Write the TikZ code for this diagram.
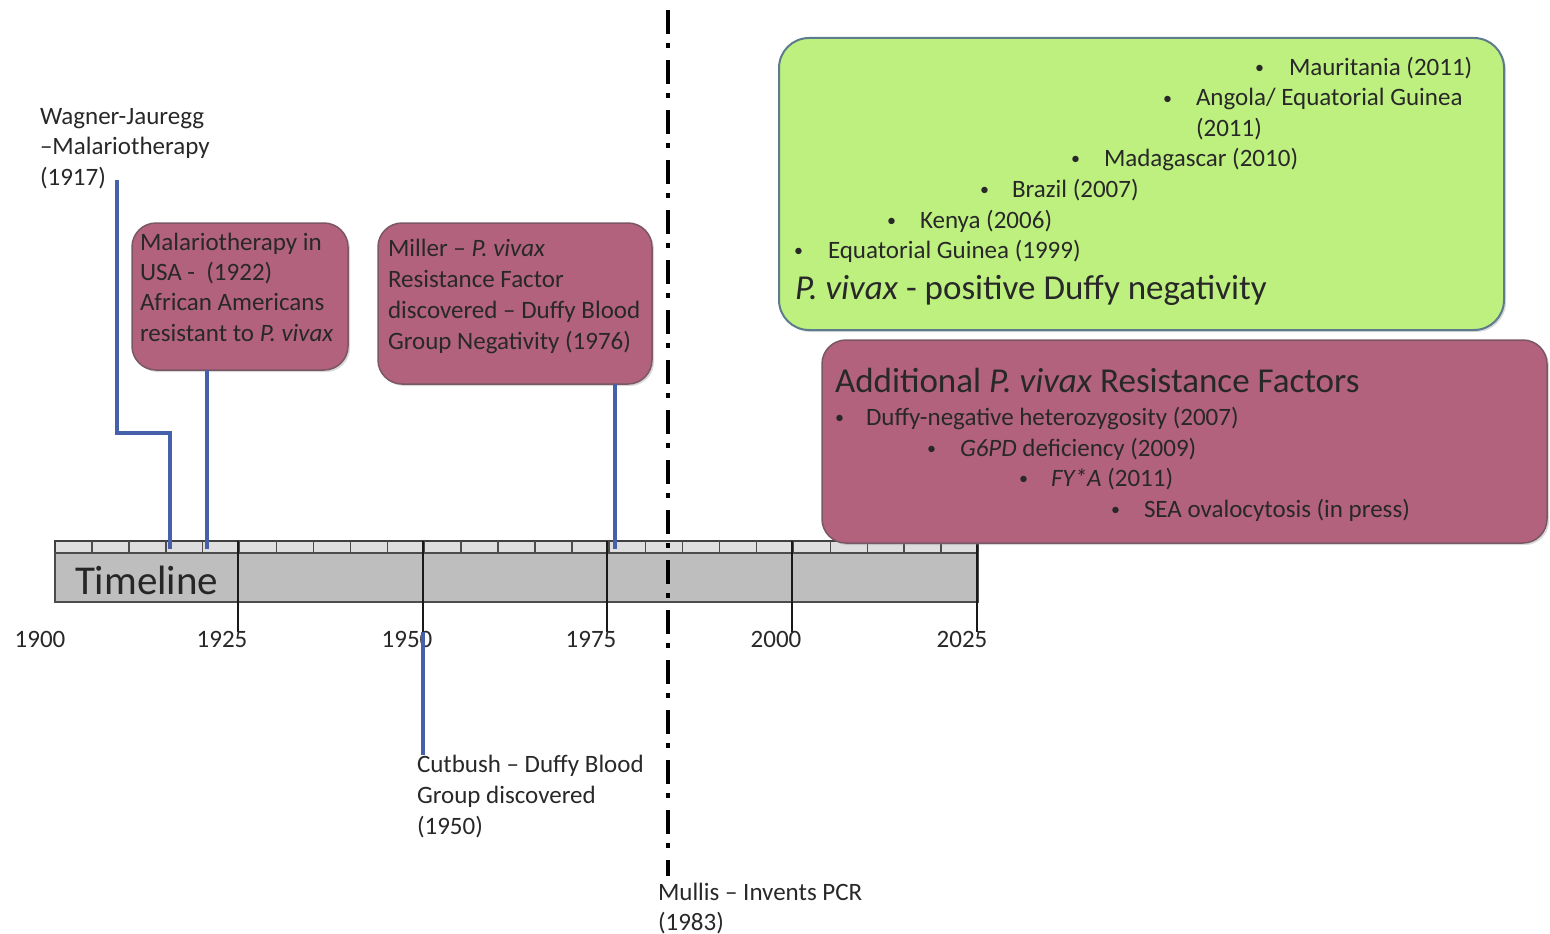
\documentclass[tikz,border=0pt]{standalone}
\usepackage{fontspec}
\setmainfont{Carlito}
\usetikzlibrary{shadows}
\definecolor{mauve}{RGB}{178,98,124}
\definecolor{mauveb}{RGB}{122,86,102}
\definecolor{lgreen}{RGB}{190,240,128}
\definecolor{greenb}{RGB}{92,124,142}
\definecolor{bluel}{RGB}{70,96,170}
\definecolor{txtc}{RGB}{40,40,40}
\definecolor{barg}{RGB}{190,190,190}
\definecolor{stripg}{RGB}{222,222,222}
\begin{document}
\begin{tikzpicture}[x=1pt,y=-1pt,
  every node/.style={inner sep=0pt,outer sep=0pt},
  txt/.style={font=\fontsize{25}{30}\selectfont,text=txtc,anchor=base west},
  bul/.style={font=\fontsize{18}{20}\selectfont,text=txtc,anchor=base west},
  bigtxt/.style={font=\fontsize{35}{40}\selectfont,text=txtc,anchor=base west},
  yrtxt/.style={font=\fontsize{25}{30}\selectfont,text=txtc,anchor=base},
  mbox/.style={rounded corners=24pt,fill=mauve,draw=mauveb,line width=1.5pt,
     drop shadow={shadow xshift=2pt,shadow yshift=-2pt,opacity=0.3}},
  gbox/.style={rounded corners=30pt,fill=lgreen,draw=greenb,line width=2pt,
     drop shadow={shadow xshift=2pt,shadow yshift=-2pt,opacity=0.3}},
  bl/.style={draw=bluel,line width=4pt},
  tick/.style={draw=black!90,line width=2.5pt},
  pcr/.style={draw=black,line width=4pt,dash pattern=on 24pt off 9pt on 5pt off 12pt}]
\useasboundingbox (0,0) rectangle (1550,934);

% ---------- timeline bar ----------
\node[anchor=north west,minimum width=923pt,minimum height=12pt,fill=stripg,draw=black!75,line width=1.5pt] (strip) at (55,541) {};
\foreach \i in {1,...,24}{\draw[black!70,line width=1.5pt] (55+\i*36.92,541) -- (55+\i*36.92,553);}
\node[anchor=north west,minimum width=923pt,minimum height=49pt,fill=barg,draw=black!70,line width=1.5pt] (bar) at (55,553) {};
\node[anchor=base west,font=\fontsize{41}{44}\selectfont,text=black!85] (tl) at (75,594) {Timeline};

\coordinate (k1925) at (238,632);
\coordinate (k1950) at (423,632);
\coordinate (k1975) at (607,632);
\coordinate (k2000) at (792,632);
\coordinate (k2025) at (977,632);
\foreach \k in {k1925,k1950,k1975,k2000,k2025}{\draw[tick] (\k |- strip.north) -- (\k);}

\node[yrtxt] (y1900) at (40,647) {1900};
\node[yrtxt] (y1925) at (222,647) {1925};
\node[yrtxt] (y1950) at (407,647) {1950};
\node[yrtxt] (y1975) at (591,647) {1975};
\node[yrtxt] (y2000) at (776,647) {2000};
\node[yrtxt] (y2025) at (962,647) {2025};

% ---------- PCR dash-dot line ----------
\coordinate (pcrtop) at (668,10);
\node[txt] (m1) at (658,900) {Mullis – Invents PCR};
\node[txt] (m2) at (658,930) {(1983)};
\draw[pcr] (pcrtop) -- (pcrtop |- 0,876);

% ---------- boxes ----------
\node[mbox,anchor=north west,minimum width=216pt,minimum height=147pt] (b1) at (132,223) {};
\node[txt] (b1a) at (140,250) {Malariotherapy in};
\node[txt] (b1b) at (140,280) {USA -\ \ (1922)};
\node[txt] (b1c) at (140,310) {African Americans};
\node[txt] (b1d) at (140,341) {resistant to \textit{P. vivax}};

\node[mbox,anchor=north west,minimum width=274pt,minimum height=161pt] (b2) at (378,223) {};
\node[txt] (b2a) at (388,256) {Miller – \textit{P. vivax}};
\node[txt] (b2b) at (388,287) {Resistance Factor};
\node[txt] (b2c) at (388,318) {discovered – Duffy Blood};
\node[txt] (b2d) at (388,349) {Group Negativity (1976)};

\node[gbox,anchor=north west,minimum width=725pt,minimum height=292pt] (g) at (779,38) {};
\node[bul] (g1b) at (1255,74) {•};
\node[txt] (g1) at (1289,76) {Mauritania (2011)};
\node[bul] (g2b) at (1163,104) {•};
\node[txt] (g2) at (1196,106) {Angola/ Equatorial Guinea};
\node[txt] (g2x) at (1196,136) {(2011)};
\node[bul] (g3b) at (1071,164) {•};
\node[txt] (g3) at (1104,166) {Madagascar (2010)};
\node[bul] (g4b) at (980,195) {•};
\node[txt] (g4) at (1012,197) {Brazil (2007)};
\node[bul] (g5b) at (887,226) {•};
\node[txt] (g5) at (920,228) {Kenya (2006)};
\node[bul] (g6b) at (794,256) {•};
\node[txt] (g6) at (828,258) {Equatorial Guinea (1999)};
\node[bigtxt] (gt) at (795,299) {\textit{P. vivax} - positive Duffy negativity};

\node[mbox,anchor=north west,minimum width=725pt,minimum height=203pt] (r) at (822,340) {};
\node[bigtxt] (rt) at (835,392) {Additional \textit{P. vivax} Resistance Factors};
\node[bul] (r1b) at (835,423) {•};
\node[txt] (r1) at (866,425) {Duffy-negative heterozygosity (2007)};
\node[bul] (r2b) at (927,454) {•};
\node[txt] (r2) at (960,456) {\textit{G6PD} deficiency (2009)};
\node[bul] (r3b) at (1019,484) {•};
\node[txt] (r3) at (1051,486) {\textit{FY*A} (2011)};
\node[bul] (r4b) at (1111,515) {•};
\node[txt] (r4) at (1144,517) {SEA ovalocytosis (in press)};

% ---------- plain labels ----------
\node[txt] (w1) at (40,124) {Wagner-Jauregg};
\node[txt] (w2) at (40,154) {–Malariotherapy};
\node[txt] (w3) at (40,185) {(1917)};
\node[txt] (c1) at (417,772) {Cutbush – Duffy Blood};
\node[txt] (c2) at (417,803) {Group discovered};
\node[txt] (c3) at (417,834) {(1950)};

% ---------- blue connectors ----------
\coordinate (wEnd) at (117,180);
\coordinate (t1917) at (170,549);
\coordinate (t1922) at (207,549);
\coordinate (t1976) at (615,549);
\draw[bl] (wEnd) -- ++(0,253) -| (t1917);
\draw[bl] (b1.south -| t1922) -- (t1922);
\draw[bl] (b2.south -| t1976) -- (t1976);
\draw[bl] (c1.north -| k1950) -- (k1950);
\end{tikzpicture}
\end{document}
